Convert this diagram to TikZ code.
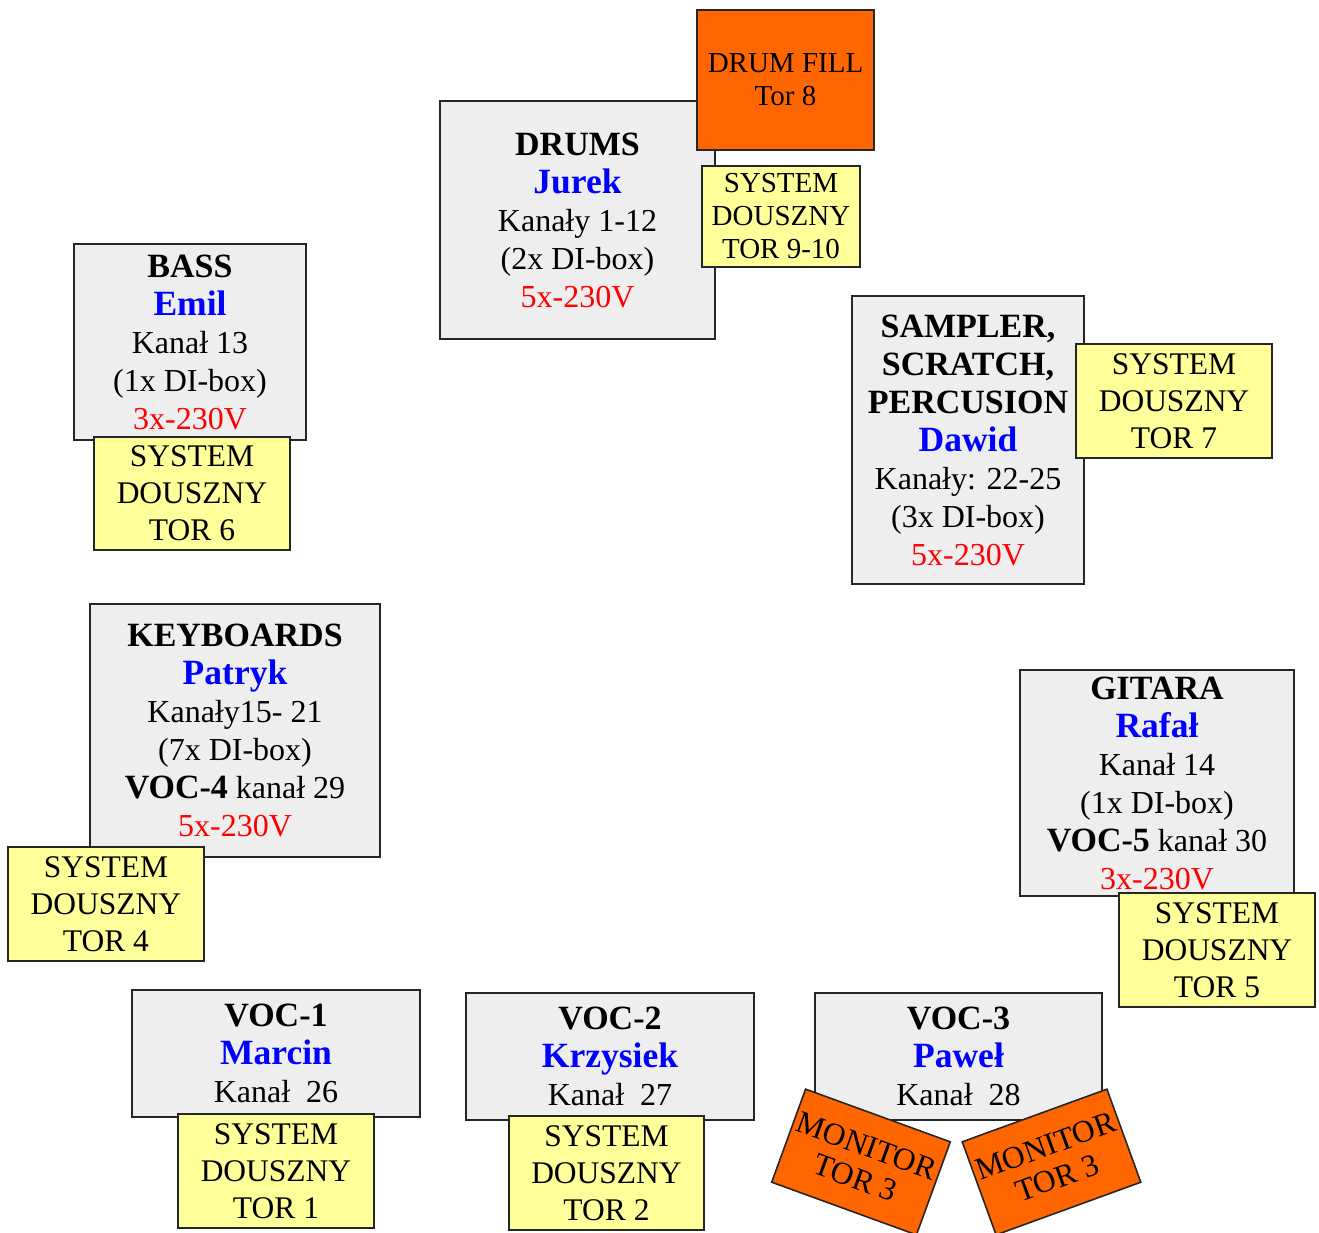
\documentclass[tikz,border=0pt]{standalone}
\usepackage{fontspec}
\setmainfont{Liberation Serif}
\usetikzlibrary{positioning}

\definecolor{boxgray}{HTML}{EEEEEE}
\definecolor{iemyellow}{HTML}{FFFF99}
\definecolor{wedgeorange}{HTML}{FF6600}
\definecolor{nameblue}{HTML}{0000FF}
\definecolor{powerred}{HTML}{FF0000}

\newcommand{\who}[1]{{\fontsize{34}{40}\selectfont\bfseries #1}}
\newcommand{\player}[1]{{\fontsize{35.5}{41}\selectfont\bfseries\color{nameblue}#1}}
\newcommand{\volt}[1]{\textcolor{powerred}{#1}}

\begin{document}
\begin{tikzpicture}[
    x=1pt, y=-1pt, % pixel grid of the stage plan
    band/.style 2 args={
        draw=black!85, % dark border
        line width=1.6pt,
        fill=boxgray, % light grey musician box
        minimum width=#1, minimum height=#2,
        inner sep=0pt,
        align=center,
        font=\fontsize{32}{38}\selectfont
    },
    iem/.style 2 args={
        band={#1}{#2},
        fill=iemyellow, % in-ear system
        font=\fontsize{31.5}{37}\selectfont
    },
    wedge/.style 2 args={
        band={#1}{#2},
        fill=wedgeorange, % monitors
        font=\fontsize{31.5}{34}\selectfont
    }
]
\useasboundingbox (0,0) rectangle (1319,1232);

% musicians
\node[band={275}{238}] (drums) at (577.5,220)
    {\who{DRUMS}\\ \player{Jurek}\\ Kanały 1-12\\ (2x DI-box)\\ \volt{5x-230V}};
\node[band={232}{196}] (bass) at (190,342)
    {\who{BASS}\\ \player{Emil}\\ Kanał 13\\ (1x DI-box)\\ \volt{3x-230V}};
\node[band={232}{288}] (sampler) at (968,440)
    {\who{SAMPLER,}\\ \who{SCRATCH,}\\ \who{PERCUSION}\\ \player{Dawid}\\ Kanały: 22-25\\ (3x DI-box)\\ \volt{5x-230V}};
\node[band={290}{253}] (keys) at (235,730.5)
    {\who{KEYBOARDS}\\ \player{Patryk}\\ Kanały15- 21\\ (7x DI-box)\\ \who{VOC-4} kanał 29\\ \volt{5x-230V}};
\node[band={274}{226}] (gitara) at (1157,783)
    {\who{GITARA}\\ \player{Rafał}\\ Kanał 14\\ (1x DI-box)\\ \who{VOC-5} kanał 30\\ \volt{3x-230V}};
\node[band={288}{127}] (voc1) at (276,1053.5)
    {\who{VOC-1}\\ \player{Marcin}\\ Kanał~ 26};
\node[band={288}{127}] (voc2) at (610,1056.5)
    {\who{VOC-2}\\ \player{Krzysiek}\\ Kanał~ 27};
\node[band={287}{127}] (voc3) at (958.5,1056.5)
    {\who{VOC-3}\\ \player{Paweł}\\ Kanał~ 28};

% drum fill and in-ear systems
\node[wedge={177}{140}, font=\fontsize{29}{33}\selectfont] (fill) at (785.5,80) {DRUM FILL\\ Tor 8};
\node[iem={158}{101}, font=\fontsize{29}{33}\selectfont] (tor910) at (781,216.5) {SYSTEM\\ DOUSZNY\\ TOR 9-10};
\node[iem={196}{113}] (tor6) at (192,493.5) {SYSTEM\\ DOUSZNY\\ TOR 6};
\node[iem={196}{114}] (tor7) at (1174,401) {SYSTEM\\ DOUSZNY\\ TOR 7};
\node[iem={196}{114}] (tor4) at (106,904) {SYSTEM\\ DOUSZNY\\ TOR 4};
\node[iem={196}{114}] (tor5) at (1217,950) {SYSTEM\\ DOUSZNY\\ TOR 5};
\node[iem={196}{114}] (tor1) at (276,1171) {SYSTEM\\ DOUSZNY\\ TOR 1};
\node[iem={195}{114}] (tor2) at (606.5,1173) {SYSTEM\\ DOUSZNY\\ TOR 2};

% monitors for VOC-3
\node[wedge={154}{99}, rotate=-20] (mon1) at (861,1162) {MONITOR\\ TOR 3};
\node[wedge={154}{99}, rotate=20] (mon2) at (1051.5,1162) {MONITOR\\ TOR 3};
\end{tikzpicture}
\end{document}
